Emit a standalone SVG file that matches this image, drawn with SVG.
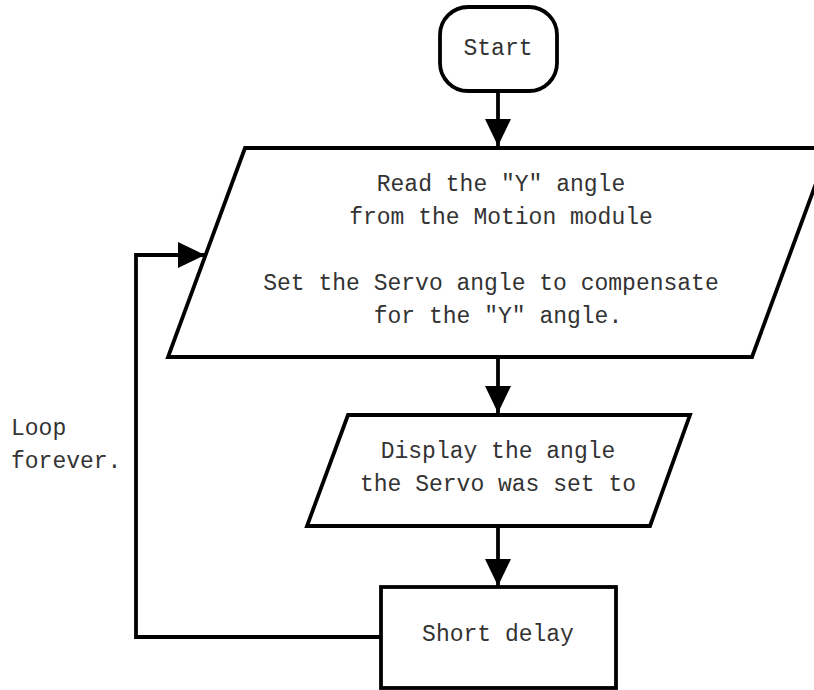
<svg xmlns="http://www.w3.org/2000/svg" width="814" height="690" viewBox="0 0 814 690">
<style>
.shape{fill:#fff;stroke:#000;stroke-width:3.8;stroke-linejoin:miter}
.t{font-family:"Liberation Mono","Courier New",monospace;font-size:23px;fill:#333;text-anchor:middle}
.l{font-family:"Liberation Mono","Courier New",monospace;font-size:23px;fill:#333}
.c{fill:none;stroke:#000;stroke-width:3.8}
</style>
<defs>
<marker id="ah" markerUnits="userSpaceOnUse" markerWidth="28" markerHeight="28" refX="27" refY="13" orient="auto" viewBox="0 0 28 26">
<path d="M0,0 L27,13 L0,26 z" fill="#000"/>
</marker>
</defs>
<g id="connectors">
<path class="c" d="M498,91 V146" marker-end="url(#ah)"/>
<path class="c" d="M498,358 V413" marker-end="url(#ah)"/>
<path class="c" d="M498,527 V586" marker-end="url(#ah)"/>
<path class="c" d="M380,637 H136 V255 H205" marker-end="url(#ah)"/>
</g>
<g id="start">
<rect class="shape" x="440" y="7" width="117" height="84" rx="28" ry="28"/>
<text class="t" x="498" y="55">Start</text>
</g>
<g id="read">
<polygon class="shape" points="245,148 829,148 752,357 168,357"/>
<text class="t" x="501" y="191">Read the "Y" angle</text>
<text class="t" x="501" y="224">from the Motion module</text>
<text class="t" x="491" y="290">Set the Servo angle to compensate</text>
<text class="t" x="498" y="323">for the "Y" angle.</text>
</g>
<g id="display">
<polygon class="shape" points="348,415 690,415 650,526 307,526"/>
<text class="t" x="498" y="458">Display the angle</text>
<text class="t" x="498" y="491">the Servo was set to</text>
</g>
<g id="delay">
<rect class="shape" x="381" y="587" width="235" height="101"/>
<text class="t" x="498" y="641">Short delay</text>
</g>
<g id="label">
<text class="l" x="11" y="435">Loop</text>
<text class="l" x="11" y="468">forever.</text>
</g>
</svg>
